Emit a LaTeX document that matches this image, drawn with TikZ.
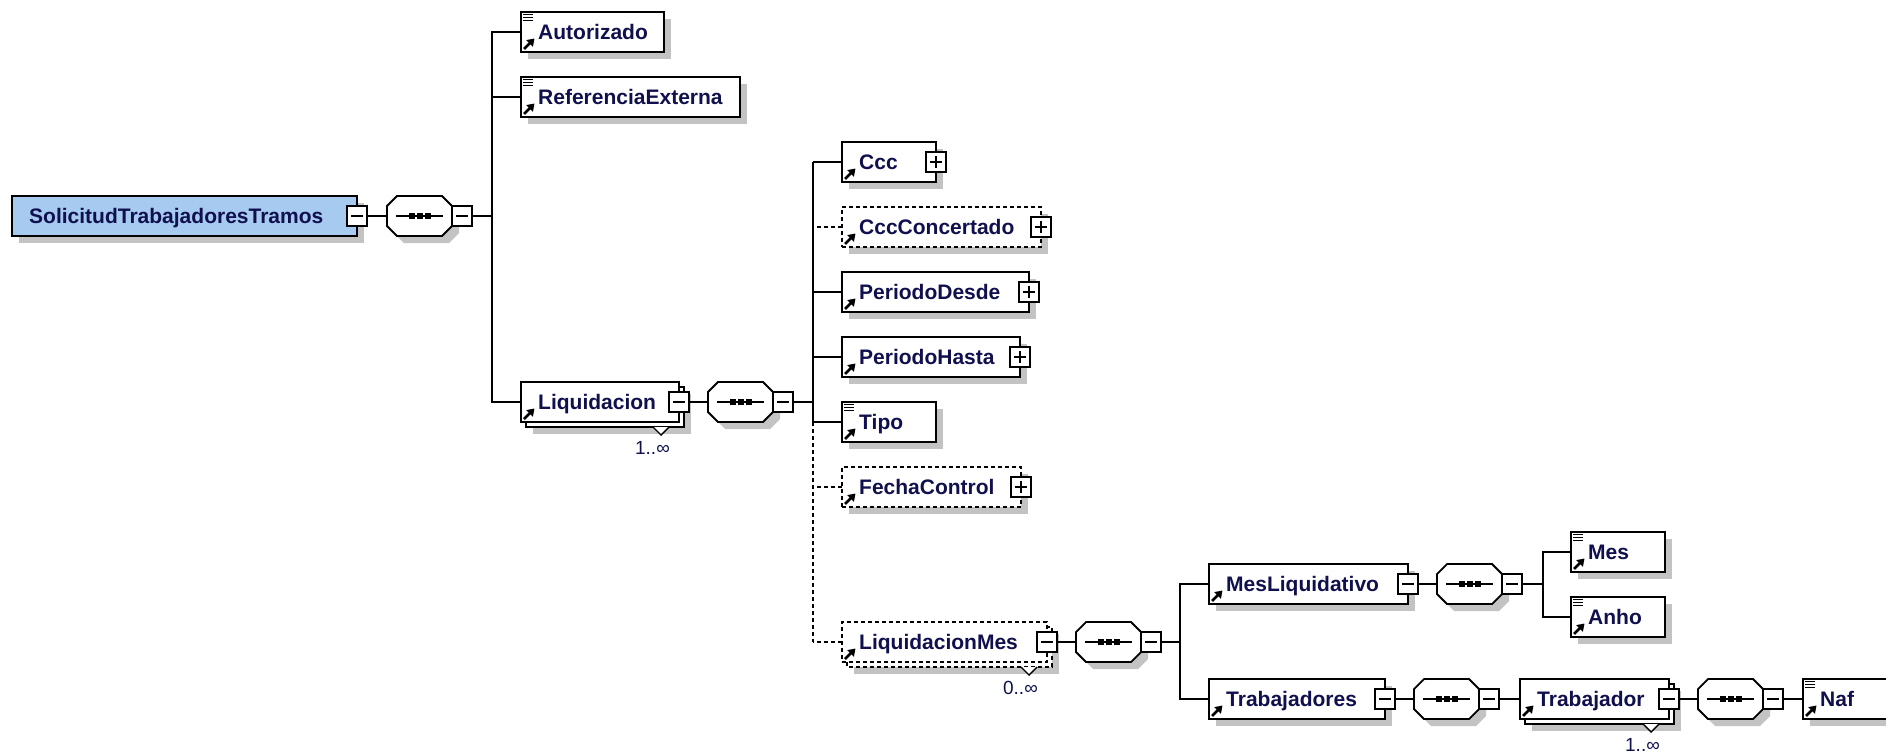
\documentclass[tikz,border=0pt]{standalone}
\usepackage{fontspec}
\setmainfont{Liberation Sans}
\usetikzlibrary{arrows.meta}

\begin{document}
\begin{tikzpicture}[x=1pt, y=-1pt]
  \definecolor{nm}{HTML}{10104E}
  \definecolor{sh}{HTML}{C3C3C3}
  \definecolor{rt}{HTML}{A6CAF0}
  \tikzset{
      elbox/.style={draw, line width=2pt, fill=white, minimum height=40pt, inner sep=0pt, outer sep=0pt, anchor=west},
      elname/.style={text=nm, font=\fontsize{21}{25}\selectfont\bfseries, inner sep=0pt, anchor=base west},
      pmbox/.style={draw, line width=1.8pt, fill=white, minimum size=20pt, inner sep=0pt, outer sep=0pt},
      seqbox/.style={minimum width=65pt, minimum height=40pt, inner sep=0pt, outer sep=0pt, anchor=west},
      mult/.style={text=nm, font=\fontsize{19}{22}\selectfont, inner sep=0pt, anchor=base east},
      conn/.style={line width=1.8pt},
      sld/.style={solid},
      dsh/.style={dash pattern=on 4pt off 3pt},
      top/.style={fill=rt},
  }
  \useasboundingbox (0,0) rectangle (1886,753);

  % name/left/y/width/text/style/stacked
  \def\elems{
      root/12/216/345/SolicitudTrabajadoresTramos/top/0,
      aut/521/32/143/Autorizado/sld/0,
      ref/521/97/219/ReferenciaExterna/sld/0,
      liq/521/402/158/Liquidacion/sld/1,
      ccc/842/162/94/Ccc/sld/0,
      cccc/842/227/199/CccConcertado/dsh/0,
      pd/842/292/187/PeriodoDesde/sld/0,
      ph/842/357/178/PeriodoHasta/sld/0,
      tipo/842/422/94/Tipo/sld/0,
      fc/842/487/179/FechaControl/dsh/0,
      lm/842/642/205/LiquidacionMes/dsh/1,
      ml/1209/584/199/MesLiquidativo/sld/0,
      mes/1571/552/94/Mes/sld/0,
      anho/1571/617/94/Anho/sld/0,
      trs/1209/699/176/Trabajadores/sld/0,
      tr/1520/699/149/Trabajador/sld/1,
      naf/1803/699/94/Naf/sld/0
  }
  \def\seqs{s0/387/216, s1/708/402, s2/1076/642, s3/1437/584, s4/1414/699, s5/1698/699}

  % shadows
  \foreach \n/\l/\y/\w/\t/\s/\k in \elems {
      \fill [sh] (\l+7+5*\k, \y-13+5*\k) rectangle ++(\w, 40);
  }

  \foreach \n/\l/\y/\w/\t/\s/\k in \elems {
      \ifnum\k=1
          \draw [\s, line width=2pt, fill=white] (\l+5, \y-15) rectangle ++(\w, 40);
          \filldraw [fill=white, line width=1.4pt] (\l+\w-26, \y+25) -- ++(8, 8) -- ++(8, -8);
      \fi
      \node [elbox, \s, minimum width=\w] (\n) at (\l, \y) {};
      \node [elname] (\n-t) at ([xshift=17pt, yshift=-7pt]\n.west) {\t};
  }

  % icons
  \foreach \n in {aut,ref,liq,ccc,cccc,pd,ph,tipo,fc,lm,ml,mes,anho,trs,tr,naf}
      \draw [line width=2.6pt, -{Triangle[length=7pt, width=9pt]}] ([shift={(3pt,3pt)}]\n.south west) -- ([shift={(13.5pt,13.5pt)}]\n.south west);
  \foreach \n in {aut,ref,tipo,mes,anho,naf}
      \foreach \d in {2.5,5.5,8.5}
          \draw [line width=1.7pt] ([shift={(2pt,-\d pt)}]\n.north west) -- ++(10,0);

  \foreach \n in {root,liq,lm,ml,trs,tr} {
      \node [pmbox] (\n-pm) at (\n.east) {};
      \draw [line width=1.5pt] ([xshift=4pt]\n-pm.west) -- ([xshift=-4pt]\n-pm.east);
  }
  \foreach \n in {ccc,cccc,pd,ph,fc} {
      \node [pmbox] (\n-pm) at (\n.east) {};
      \draw [line width=1.5pt] ([xshift=4pt]\n-pm.west) -- ([xshift=-4pt]\n-pm.east)
                               ([yshift=-4pt]\n-pm.north) -- ([yshift=4pt]\n-pm.south);
  }

  \foreach \n/\m in {liq/{1..∞}, lm/{0..∞}, tr/{1..∞}}
      \node [mult] (\n-m) at ([shift={(-9pt,-32pt)}]\n.south east) {\m};

  % sequences
  \foreach \q/\x/\y in \seqs {
      \fill [sh] (\x+17,\y-13) -- (\x+62,\y-13) -- (\x+72,\y-3) -- (\x+72,\y+17) -- (\x+62,\y+27) -- (\x+17,\y+27) -- (\x+7,\y+17) -- (\x+7,\y-3) -- cycle;
      \node [seqbox] (\q) at (\x,\y) {};
      \draw [line width=1.8pt, fill=white] (\x+10,\y-20) -- (\x+55,\y-20) -- (\x+65,\y-10) -- (\x+65,\y+10) -- (\x+55,\y+20) -- (\x+10,\y+20) -- (\x,\y+10) -- (\x,\y-10) -- cycle;
      \draw [line width=1.5pt] (\x+9,\y) -- (\x+56,\y);
      \foreach \d in {-8,0,8}
          \fill (\x+32.5+\d-3,\y-2.8) rectangle ++(6,5.6);
      \node [pmbox] (\q-pm) at (\x+75,\y) {};
      \draw [line width=1.5pt] ([xshift=4pt]\q-pm.west) -- ([xshift=-4pt]\q-pm.east);
  }

  % connectors
  \coordinate (b1) at (492,216);
  \coordinate (b2) at (813,402);
  \coordinate (b3) at (1180,642);
  \coordinate (b4) at (1543,584);

  \draw [conn] (root-pm) -- (s0);
  \draw [conn] (s0-pm) -- (b1);
  \foreach \c in {aut,ref,liq} \draw [conn] (\c) -| (b1);

  \draw [conn] (liq-pm) -- (s1);
  \draw [conn] (s1-pm) -- (b2);
  \foreach \c/\s in {ccc/sld, cccc/dsh, pd/sld, ph/sld, tipo/sld, fc/dsh, lm/dsh}
      \draw [conn, \s] (\c) -- (\c -| b2);
  \draw [conn] (ccc -| b2) -- (tipo -| b2);
  \draw [conn, dsh] (tipo -| b2) -- (lm -| b2);

  \draw [conn] (lm-pm) -- (s2);
  \draw [conn] (s2-pm) -- (b3);
  \foreach \c in {ml,trs} \draw [conn] (\c) -| (b3);
  \draw [conn] (ml-pm) -- (s3);
  \draw [conn] (s3-pm) -- (b4);
  \foreach \c in {mes,anho} \draw [conn] (\c) -| (b4);
  \draw [conn] (trs-pm) -- (s4);
  \draw [conn] (s4-pm) -- (tr);
  \draw [conn] (tr-pm) -- (s5);
  \draw [conn] (s5-pm) -- (naf);
\end{tikzpicture}
\end{document}
